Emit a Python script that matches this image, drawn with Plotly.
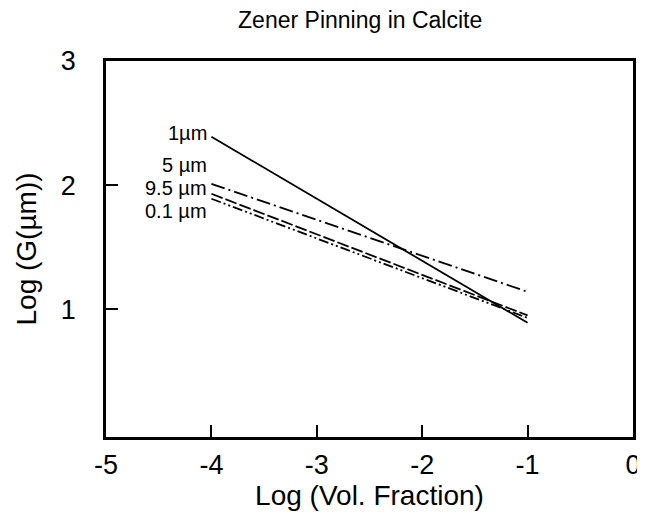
import plotly.graph_objects as go

x_vals = [-4, -1]
series_names = ["1\u00b5m", "5 \u00b5m", "9.5 \u00b5m", "0.1 \u00b5m"]
y_1um = [2.39, 0.89]
y_5um = [2.01, 1.14]
y_95um = [1.93, 0.95]
y_01um = [1.89, 0.93]
x_ticks = [-5, -4, -3, -2, -1, 0]
y_ticks = [1, 2, 3]

fig = go.Figure()
styles = [
    (y_1um, "solid"),
    (y_5um, "14px,4px,2px,4px"),
    (y_95um, "12px,3px"),
    (y_01um, "10px,3px,2px,3px,2px,3px"),
]
for (ys, dash), name in zip(styles, series_names):
    fig.add_trace(go.Scatter(x=x_vals, y=ys, mode="lines", name=name,
                             line=dict(color="black", width=1.8, dash=dash),
                             showlegend=False))

label_y = [2.42, 2.16, 1.98, 1.79]
for name, yy in zip(series_names, label_y):
    fig.add_annotation(x=-4.02, y=yy, xref="x", yref="y", text=name,
                       showarrow=False, xanchor="right", yanchor="middle",
                       font=dict(size=20, color="black", family="Liberation Sans"))

fig.update_layout(
    width=645, height=521,
    margin=dict(l=98, r=16, t=53, b=92),
    paper_bgcolor="white", plot_bgcolor="white",
    font=dict(family="Liberation Sans", color="black"),
    title=dict(text="Zener Pinning in Calcite", x=0.546, xanchor="center",
               y=0.977, yanchor="middle", font=dict(size=23)),
)
fig.update_xaxes(range=[-5, 0], tickvals=x_ticks, ticktext=[str(v) for v in x_ticks],
                 ticks="inside", ticklen=12, tickwidth=2, tickcolor="black",
                 showline=True, linewidth=2.5, linecolor="black", mirror=True,
                 showgrid=False, zeroline=False, tickfont=dict(size=27),
                 ticklabelstandoff=2,
                 title=dict(text="Log (Vol. Fraction)", font=dict(size=28), standoff=4))
fig.update_yaxes(range=[-0.03, 3], tickvals=y_ticks, ticktext=[str(v) for v in y_ticks],
                 ticks="inside", ticklen=12, tickwidth=2, tickcolor="black",
                 showline=True, linewidth=2.5, linecolor="black", mirror=True,
                 showgrid=False, zeroline=False, tickfont=dict(size=27),
                 ticklabelstandoff=22,
                 title=dict(text="Log (G(\u00b5m))", font=dict(size=28), standoff=17))

fig.write_html("out.html")
